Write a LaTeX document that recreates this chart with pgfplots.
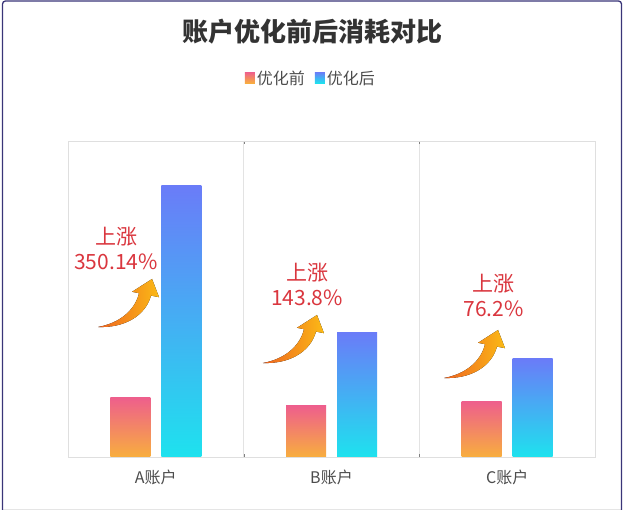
\documentclass[border=0pt]{standalone}
\usepackage{pgfplots}
\pgfplotsset{compat=1.18}
\usepackage{fontspec}
\setmainfont{Noto Sans CJK SC}

\definecolor{pinktop}{HTML}{EE5F8C}
\definecolor{orangebot}{HTML}{F8AE3E}
\definecolor{bluetop}{HTML}{6A7CF8}
\definecolor{cyanbot}{HTML}{1EE2EE}
\definecolor{redtxt}{HTML}{DA363E}
\definecolor{arrowdark}{HTML}{EE6420}
\definecolor{arrowlight}{HTML}{FBBA16}
\definecolor{framec}{HTML}{3A3578}

\pgfplotsset{
  before/.style={ybar, bar width=40pt, bar shift=-25.5pt, draw=none,
    top color=pinktop, bottom color=orangebot,
    legend image code/.code={\fill[top color=pinktop, bottom color=orangebot] (0pt,-5pt) rectangle (10pt,6pt);}},
  after/.style={ybar, bar width=40pt, bar shift=25.5pt, draw=none,
    top color=bluetop, bottom color=cyanbot,
    legend image code/.code={\fill[top color=bluetop, bottom color=cyanbot] (0pt,-5pt) rectangle (10pt,6pt);}},
}
\tikzset{uparrow/.style={left color=arrowdark, right color=arrowlight}}
\newcommand{\riseArrow}[1]{%
  \begin{scope}[shift={(#1)}]
    \fill[uparrow] (0pt,0pt) .. controls (22pt,4pt) and (37pt,17pt) .. (41pt,33.8pt)
      -- (34pt,35.2pt) -- (54pt,48pt) -- (61pt,29.8pt) -- (53pt,31.4pt)
      .. controls (47pt,10pt) and (25pt,-1pt) .. (0pt,0pt) -- cycle;
  \end{scope}}

\begin{document}
\begin{tikzpicture}
\fill[white] (0pt,0pt) rectangle (624pt,514pt);
\draw[gray!20, line width=1pt] (2.5pt,4pt) -- (621.5pt,4pt);
\draw[framec, line width=1.3pt, rounded corners=3pt] (2.5pt,4pt) -- (2.5pt,513pt) -- (621.5pt,513pt) -- (621.5pt,4pt);

\begin{axis}[
  at={(68pt,57pt)}, anchor=south west,
  width=527pt, height=316pt, scale only axis,
  xmin=-0.5, xmax=2.5, ymin=0, ymax=316,
  xtick={0,1,2}, xticklabels={A账户,B账户,C账户},
  ytick=\empty,
  major tick length=0pt,
  minor xtick={0.5,1.5}, xminorgrids,
  minor grid style={draw=gray!22, line width=0.9pt},
  axis line style={draw=gray!25, line width=0.9pt},
  xticklabel style={font=\fontsize{16}{18}\selectfont, text=black!70, anchor=center, yshift=-20pt},
  legend style={at={(0.461,1.199)}, anchor=center, draw=none, fill=none,
    legend columns=2, font=\fontsize{16}{18}\selectfont, text=black!70,
    /tikz/every even column/.append style={column sep=8pt}},
  legend cell align=left,
  clip=false,
]
% one plot per bar, so that each bar gets its own gradient
\addplot[before] coordinates {(0,59.5)};
\addlegendentry{优化前}
\addplot[after] coordinates {(0,271)};
\addlegendentry{优化后}
\addplot[before, forget plot] coordinates {(1,51)};
\addplot[after, forget plot] coordinates {(1,124.5)};
\addplot[before, forget plot] coordinates {(2,55.5)};
\addplot[after, forget plot] coordinates {(2,98)};

\node[text=redtxt, font=\fontsize{21}{24}\selectfont] at (axis cs:-0.2266,220) {上涨};
\node[text=redtxt, font=\fontsize{21}{24}\selectfont] at (axis cs:-0.2266,195) {350.14\%};
\node[text=redtxt, font=\fontsize{21}{24}\selectfont] at (axis cs:0.861,184) {上涨};
\node[text=redtxt, font=\fontsize{21}{24}\selectfont] at (axis cs:0.861,159) {143.8\%};
\node[text=redtxt, font=\fontsize{21}{24}\selectfont] at (axis cs:1.922,173) {上涨};
\node[text=redtxt, font=\fontsize{21}{24}\selectfont] at (axis cs:1.922,148) {76.2\%};

\coordinate (ta) at (axis cs:-0.329,130);
\coordinate (tb) at (axis cs:0.610,94);
\coordinate (tc) at (axis cs:1.6406,79);
\end{axis}

\riseArrow{ta}
\riseArrow{tb}
\riseArrow{tc}

\node[font=\bfseries\fontsize{26}{30}\selectfont, text=black!80] at (312pt,482pt) {账户优化前后消耗对比};
\end{tikzpicture}
\end{document}
